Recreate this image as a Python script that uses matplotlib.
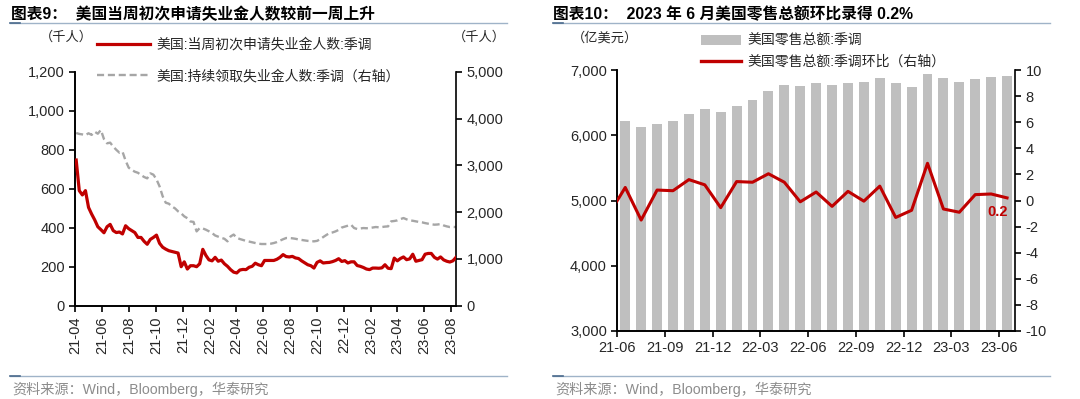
import numpy as np
import pandas as pd
import matplotlib
matplotlib.use("Agg")
import matplotlib.pyplot as plt
from matplotlib.lines import Line2D
from matplotlib.patches import Patch
from matplotlib.ticker import FuncFormatter

plt.rcParams['font.family'] = ['Liberation Sans', 'Noto Sans CJK SC', 'DejaVu Sans']
plt.rcParams['axes.unicode_minus'] = False

# ---- left chart: weekly jobless claims (thousand persons)
initial_claims = [
    747, 590, 568, 590, 504, 470, 440, 405, 390, 374,
    405, 417, 385, 375, 378, 368, 410, 395, 385, 375,
    350, 350, 330, 315, 340, 350, 362, 320, 300, 290,
    282, 278, 274, 270, 200, 225, 188, 205, 205, 200,
    215, 289, 258, 235, 230, 248, 228, 234, 215, 202,
    185, 172, 168, 183, 186, 185, 197, 202, 218, 210,
    205, 232, 232, 232, 232, 238, 248, 262, 252, 250,
    253, 245, 242, 230, 220, 210, 205, 193, 222, 230,
    219, 221, 222, 226, 232, 241, 227, 231, 219, 225,
    225, 206, 202, 196, 188, 185, 193, 193, 192, 194,
    210, 192, 190, 244, 230, 242, 250, 236, 240, 264,
    228, 232, 236, 264, 268, 268, 248, 239, 250, 235,
    228, 224, 230, 248,
]
continuing_claims = [
    3690, 3670, 3660, 3645, 3684, 3650, 3718, 3675, 3754, 3560,
    3470, 3484, 3400, 3330, 3270, 3291, 3100, 2950, 2900, 2863,
    2840, 2792, 2750, 2721, 2828, 2800, 2700, 2550, 2340, 2200,
    2180, 2120, 2080, 2016, 1973, 1909, 1870, 1800, 1790, 1588,
    1659, 1650, 1624, 1590, 1553, 1500, 1475, 1450, 1430, 1375,
    1480, 1520, 1450, 1425, 1405, 1385, 1370, 1355, 1339, 1325,
    1318, 1318, 1318, 1325, 1339, 1360, 1390, 1420, 1446, 1446,
    1440, 1430, 1415, 1405, 1395, 1385, 1380, 1375, 1385, 1420,
    1467, 1510, 1550, 1565, 1588, 1620, 1670, 1690, 1710, 1731,
    1660, 1638, 1650, 1659, 1655, 1660, 1670, 1681, 1675, 1681,
    1690, 1695, 1802, 1810, 1823, 1850, 1873, 1845, 1823, 1815,
    1802, 1790, 1781, 1765, 1752, 1740, 1731, 1735, 1745, 1715,
    1695, 1681, 1684, 1679,
]
week_dates = pd.date_range('2021-04-03', periods=len(initial_claims), freq='7D')

# ---- right chart: monthly retail sales
retail_months = ['21-06', '21-07', '21-08', '21-09', '21-10', '21-11', '21-12',
                 '22-01', '22-02', '22-03', '22-04', '22-05', '22-06', '22-07',
                 '22-08', '22-09', '22-10', '22-11', '22-12', '23-01', '23-02',
                 '23-03', '23-04', '23-05', '23-06']
retail_sales = [6221, 6128, 6179, 6221, 6323, 6395, 6359, 6446, 6538, 6677,
                6764, 6754, 6795, 6764, 6805, 6810, 6882, 6795, 6733, 6933,
                6882, 6821, 6856, 6887, 6908]
# month-on-month, first value is 21-05 (sits just outside the axis)
retail_mom = [-1.0, 1.0, -1.5, 0.8, 0.75, 1.6, 1.2, -0.55, 1.45, 1.4, 2.05,
              1.4, -0.1, 0.65, -0.45, 0.7, -0.05, 1.1, -1.3, -0.75, 2.85,
              -0.65, -0.9, 0.45, 0.5, 0.2]

RED = '#C00000'
GREY_LINE = '#A6A6A6'
BAR = '#BFBFBF'
TXT = '#262626'
RULE = '#9FB3C8'

W, H = 1080, 399
fig = plt.figure(figsize=(W / 100, H / 100), dpi=100)


def fx(px):
    return px / W


def fy(py):
    return 1 - py / H


thousands = FuncFormatter(lambda v, p: f'{v:,.0f}')


def style_axis(ax):
    ax.tick_params(axis='both', labelsize=10.5, colors='black', labelcolor=TXT,
                   length=4, width=1.2, direction='out')


# ---------------- left panel ----------------
ax1 = fig.add_axes([fx(75.3), fy(305.7), fx(456 - 75.3), (305.7 - 71.7) / H])
ax1.plot(week_dates, initial_claims, color=RED, lw=2.3, zorder=3)
ax1.set_ylim(0, 1200)
ax1.set_yticks(range(0, 1201, 200))
ax1.yaxis.set_major_formatter(thousands)
ax1.set_xlim(pd.Timestamp('2021-04-01'), week_dates[-1])
ticks = pd.date_range('2021-04-01', '2023-08-01', freq='2MS')
ax1.set_xticks(ticks)
ax1.set_xticklabels([d.strftime('%y-%m') for d in ticks], rotation=90)
style_axis(ax1)

ax1b = ax1.twinx()
ax1b.plot(week_dates, continuing_claims, color=GREY_LINE, lw=1.7,
          dashes=(3, 1.6), zorder=2)
ax1b.set_ylim(0, 5000)
ax1b.set_yticks(range(0, 5001, 1000))
ax1b.yaxis.set_major_formatter(thousands)
style_axis(ax1b)
ax1.set_zorder(ax1b.get_zorder() + 1)
ax1.patch.set_visible(False)

for a in (ax1, ax1b):
    a.spines['top'].set_visible(False)
    for s in ('left', 'right', 'bottom'):
        a.spines[s].set_linewidth(1.2)
ax1.spines['right'].set_visible(False)

fig.legend(handles=[Line2D([], [], color=RED, lw=2.3),
                    Line2D([], [], color=GREY_LINE, lw=1.7, dashes=(3, 1.6))],
           labels=['美国:当周初次申请失业金人数:季调',
                   '美国:持续领取失业金人数:季调（右轴）'],
           loc='upper left', bbox_to_anchor=(fx(97), fy(38)), frameon=False,
           fontsize=10, handlelength=3.8, handletextpad=0.5, labelspacing=1.25,
           borderpad=0, borderaxespad=0, labelcolor=TXT)

fig.text(fx(40), fy(37), '（千人）', fontsize=9.5, color=TXT, va='center')
fig.text(fx(453), fy(37), '（千人）', fontsize=9.5, color=TXT, va='center')

# ---------------- right panel ----------------
xpos = np.arange(len(retail_sales))
ax2 = fig.add_axes([fx(617.3), fy(331), fx(1015 - 617.3), (331 - 70) / H])
ax2.bar(xpos, retail_sales, width=0.62, color=BAR, zorder=1)
ax2.set_ylim(3000, 7000)
ax2.set_yticks(range(3000, 7001, 1000))
ax2.yaxis.set_major_formatter(thousands)
ax2.set_xlim(-0.5, len(retail_sales) - 0.5)
ax2.set_xticks(xpos[::3] - 0.5)
ax2.set_xticklabels(retail_months[::3])
style_axis(ax2)

ax2b = ax2.twinx()
mom_x = np.arange(-1, len(retail_sales))
ax2b.plot(mom_x, retail_mom, color=RED, lw=2.2, zorder=3)
ax2b.set_ylim(-10, 10)
ax2b.set_yticks(range(-10, 11, 2))
style_axis(ax2b)
ax2b.annotate(f'{retail_mom[-1]:.1f}', (mom_x[-1], retail_mom[-1]),
              xytext=(-7, -10), textcoords='offset points', ha='center',
              va='center', color=RED, fontsize=10.5, fontweight='bold')

for a in (ax2, ax2b):
    a.spines['top'].set_visible(False)
    for s in ('left', 'right', 'bottom'):
        a.spines[s].set_linewidth(1.2)
ax2.spines['right'].set_visible(False)

fig.legend(handles=[Patch(facecolor=BAR, edgecolor='none'),
                    Line2D([], [], color=RED, lw=2.4)],
           labels=['美国零售总额:季调', '美国零售总额:季调环比（右轴）'],
           loc='upper left', bbox_to_anchor=(fx(701), fy(34)), frameon=False,
           fontsize=10, handlelength=2.9, handleheight=0.7, handletextpad=0.45,
           labelspacing=0.5, borderpad=0, borderaxespad=0, labelcolor=TXT)

fig.text(fx(572), fy(38), '（亿美元）', fontsize=9.5, color=TXT, va='center')

# ---------------- titles, rules, sources ----------------
fig.text(fx(11), fy(14), '图表9：  美国当周初次申请失业金人数较前一周上升',
         fontsize=11.3, fontweight='bold', color='black', va='center')
fig.text(fx(553), fy(14), '图表10：  2023 年 6 月美国零售总额环比录得 0.2%',
         fontsize=11.3, fontweight='bold', color='black', va='center')

for x0, x1 in ((10, 507), (553, 1050)):
    for yy in (23, 376):
        fig.add_artist(Line2D([fx(x0), fx(x1)], [fy(yy), fy(yy)], color=RULE, lw=1))
        fig.add_artist(Line2D([fx(x0), fx(x0 + 10)], [fy(yy), fy(yy)],
                              color='#4A6A8C', lw=1.2))
    fig.text(fx(x0 + 2), fy(389), '资料来源：Wind，Bloomberg，华泰研究',
             fontsize=10.2, color='#8C8C8C', va='center')

fig.savefig('out.png', dpi=100)
